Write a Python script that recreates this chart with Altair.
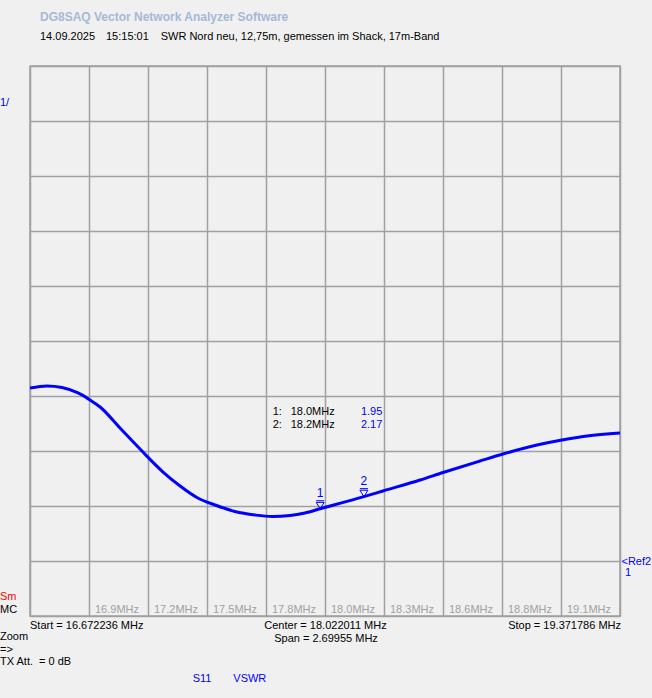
import altair as alt
import pandas as pd

# ---- data ----
freq_mhz = [16.6722, 16.750, 16.819, 16.892, 16.947, 16.993, 17.084, 17.180, 17.281,
            17.359, 17.436, 17.519, 17.610, 17.702, 17.780, 17.862, 17.930, 18.000,
            18.200, 18.287, 18.457, 18.562, 18.731, 18.836, 18.992, 19.106, 19.221,
            19.3718]
vswr = [4.145, 4.182, 4.155, 4.055, 3.927, 3.800, 3.418, 3.018, 2.618,
        2.364, 2.155, 2.018, 1.900, 1.836, 1.809, 1.827, 1.873, 1.950,
        2.170, 2.273, 2.473, 2.609, 2.818, 2.945, 3.109, 3.200, 3.273,
        3.327]

start_mhz = 16.672236
stop_mhz = 19.371786
span_mhz = 2.69955
grid_labels = ["16.9MHz", "17.2MHz", "17.5MHz", "17.8MHz", "18.0MHz",
               "18.3MHz", "18.6MHz", "18.8MHz", "19.1MHz"]
marker_ids = ["1", "2"]
marker_freq = [18.0, 18.2]
marker_vswr = [1.95, 2.17]
marker_freq_txt = ["18.0MHz", "18.2MHz"]
marker_val_txt = ["1.95", "2.17"]

FONT = "Liberation Sans"
BLUE = "#0000ff"
GRID = "#a0a0a0"

x_grid = [start_mhz + i * span_mhz / 10 for i in range(11)]
y_grid = list(range(0, 11))

xs = alt.Scale(domain=[start_mhz, stop_mhz], nice=False, zero=False)
ys = alt.Scale(domain=[0, 10], nice=False, zero=True)

curve = pd.DataFrame({"f": freq_mhz, "v": vswr})

base = alt.Chart(curve).mark_line(color=BLUE, strokeWidth=3, interpolate="monotone", clip=True).encode(
    x=alt.X("f:Q", scale=xs,
            axis=alt.Axis(values=x_grid, grid=True, gridColor=GRID, gridOpacity=1, gridWidth=1.5,
                          labels=False, ticks=False, domain=False, title=None)),
    y=alt.Y("v:Q", scale=ys,
            axis=alt.Axis(values=y_grid, grid=True, gridColor=GRID, gridOpacity=1, gridWidth=1.5,
                          labels=False, ticks=False, domain=False, title=None)),
)

gl = pd.DataFrame({"f": x_grid[1:10], "t": grid_labels})
grid_text = alt.Chart(gl).mark_text(align="left", baseline="middle", font=FONT, fontSize=11,
                                    color=GRID, dx=6).encode(
    x=alt.X("f:Q", scale=xs), y=alt.value(543.5), text="t:N")

mk = pd.DataFrame({"id": marker_ids, "f": marker_freq, "v": marker_vswr,
                   "ft": marker_freq_txt, "vt": marker_val_txt,
                   "row": [345.5, 359.0]})
mk_tri = alt.Chart(mk).mark_point(
    shape="M -1 -0.6 L 1 -0.6 L 0 1 Z M -1 -1 L 1 -1", size=64, filled=False,
    color=BLUE, strokeWidth=1, opacity=1, yOffset=-4).encode(
    x=alt.X("f:Q", scale=xs), y=alt.Y("v:Q", scale=ys))
mk_id = alt.Chart(mk).mark_text(font=FONT, fontSize=12, color=BLUE, baseline="bottom", dy=-9).encode(
    x=alt.X("f:Q", scale=xs), y=alt.Y("v:Q", scale=ys), text="id:N")
mk_tab_id = alt.Chart(mk).transform_calculate(lab="datum.id + ':'").mark_text(
    font=FONT, fontSize=11, color="black", align="left", baseline="middle").encode(
    x=alt.value(242.7), y=alt.Y("row:Q", scale=None), text="lab:N")
mk_tab_f = alt.Chart(mk).mark_text(font=FONT, fontSize=11, color="black", align="left",
                                   baseline="middle").encode(
    x=alt.value(260.7), y=alt.Y("row:Q", scale=None), text="ft:N")
mk_tab_v = alt.Chart(mk).mark_text(font=FONT, fontSize=11, color=BLUE, align="right",
                                   baseline="middle").encode(
    x=alt.value(352.3), y=alt.Y("row:Q", scale=None), text="vt:N")


def txt(s, x, y, color="black", align="left", size=11, weight="normal"):
    return alt.Chart(pd.DataFrame({"t": [s]})).mark_text(
        align=align, baseline="middle", font=FONT, fontSize=size, fontWeight=weight,
        color=color).encode(x=alt.value(x), y=alt.value(y), text="t:N")


texts = [
    txt("DG8SAQ Vector Network Analyzer Software", 10, -49, color="#a5b9d6", size=12, weight="bold"),
    txt("14.09.2025", 10, -29),
    txt("15:15:01", 76, -29),
    txt("SWR Nord neu, 12,75m, gemessen im Shack, 17m-Band", 130.7, -29),
    txt("1/", -30, 36.5, color=BLUE),
    txt("Sm", -30, 531, color="#ff0000"),
    txt("MC", -30, 544),
    txt("Start = 16.672236 MHz", 0, 560),
    txt("Center = 18.022011 MHz", 295.5, 560, align="center"),
    txt("Span = 2.69955 MHz", 296, 573, align="center"),
    txt("Stop = 19.371786 MHz", 591, 560, align="right"),
    txt("Zoom", -30, 571),
    txt("=>", -30, 584),
    txt("TX Att.", -30, 595.5),
    txt("= 0 dB", 9, 595.5),
    txt("S11", 162.7, 612.5, color=BLUE),
    txt("VSWR", 203.3, 612.5, color=BLUE),
    txt("<Ref2", 591.5, 495.5, color=BLUE),
    txt("1", 595, 506.5, color=BLUE),
]

chart = alt.layer(base, grid_text, mk_tri, mk_id, mk_tab_id, mk_tab_f, mk_tab_v, *texts).properties(
    width=590, height=550,
    autosize=alt.AutoSizeParams(type="none"),
    padding={"left": 30, "top": 66, "right": 32, "bottom": 82},
    background="#f0f0f0",
).configure_view(stroke=GRID, strokeWidth=1.5, fill="#f0f0f0")

chart.save("out.html", embed_options={"renderer": "svg", "actions": False})
